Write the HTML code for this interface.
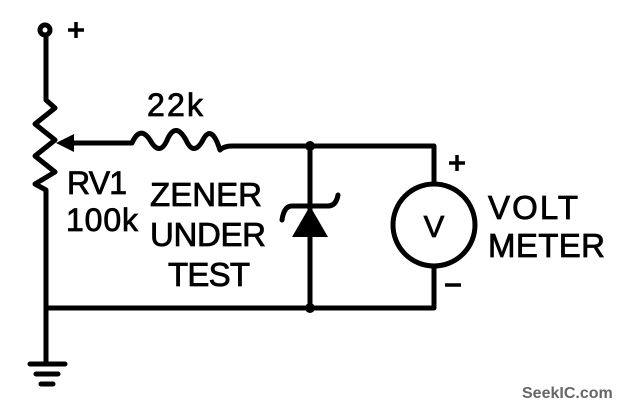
<!DOCTYPE html>
<html><head><style>
body{margin:0;background:#fff;}
svg{display:block}
text{font-family:"Liberation Sans",sans-serif;fill:#000;stroke:#000;stroke-width:0.8}
</style></head><body>
<svg width="642" height="410" viewBox="0 0 642 410">
<g stroke="#000" stroke-width="5" fill="none" stroke-linecap="round" stroke-linejoin="round">
<circle cx="45" cy="30" r="5"/>
<path d="M46 35 V100 L55 108 L35 124 L55 140 L35 156 L55 172 L35 184 L46 190 V362"/>
<path d="M30 364 H65 M36 374 H58 M41 384 H53"/>
<path d="M47 308 H434 V267"/>
<path d="M70 143 H132 Q140 125 150 140 Q160 158 168 138 Q176 122 186 140 Q194 158 204 138 Q212 125 220 150 Q224 146 232 146 H434 V184"/>
<circle cx="434" cy="225" r="41"/>
<path d="M310 146 V308"/>
<path d="M282 220 Q284 206 292 206 H328 Q336 206 338 195"/>
</g>
<path d="M56 143 L74 134 L74 152 Z" fill="#000"/>
<path d="M310 206 L292 237 H328 Z" fill="#000"/>
<circle cx="310" cy="146" r="5" fill="#000"/>
<circle cx="310" cy="308" r="5" fill="#000"/>
<g stroke="#000" stroke-width="3.5"><path d="M68 30 H84 M76 22 V38 M449 163 H465 M457 155 V171 M445 285 H461"/></g>
<text x="434" y="237" font-size="31" text-anchor="middle">V</text>
<text x="147" y="116" font-size="32" textLength="56">22k</text>
<text x="67" y="194" font-size="32" textLength="60">RV1</text>
<text x="66" y="231" font-size="32" textLength="72">100k</text>
<text x="150" y="206" font-size="33" textLength="112">ZENER</text>
<text x="150" y="246" font-size="33" textLength="116">UNDER</text>
<text x="168" y="286" font-size="33" textLength="82">TEST</text>
<text x="488" y="219" font-size="33" textLength="90">VOLT</text>
<text x="488" y="257" font-size="33" textLength="117">METER</text>
<text x="522" y="398" font-size="16" font-weight="bold" style="fill:#666;stroke:none">SeekIC.com</text>
</svg>
</body></html>
